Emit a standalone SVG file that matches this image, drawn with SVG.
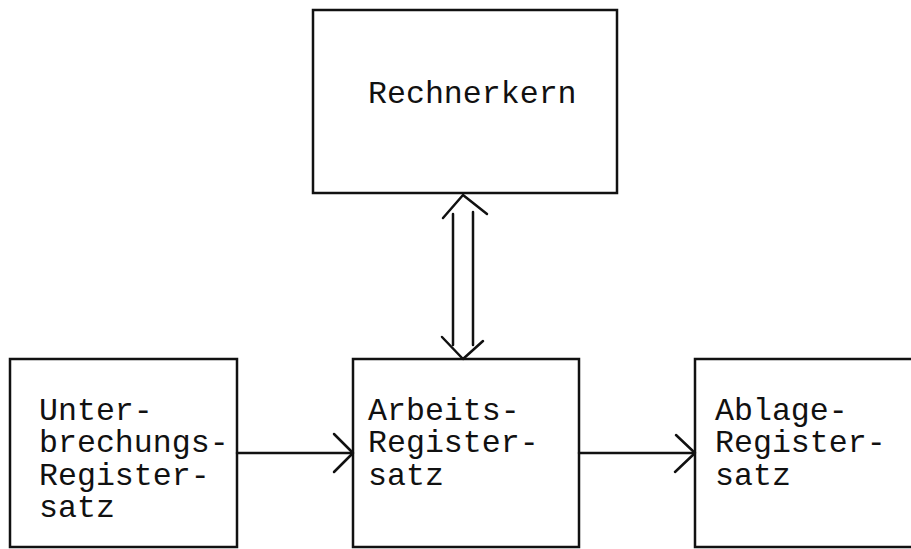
<svg xmlns="http://www.w3.org/2000/svg" width="911" height="549" viewBox="0 0 911 549">
  <style>
    .box { fill: #fff; stroke: #111; stroke-width: 2.5; }
    .lbl { font-family: "Liberation Mono", "Courier New", monospace; font-size: 31.6px; fill: #111; }
    .wire { fill: none; stroke: #111; stroke-width: 2.5; stroke-linecap: round; stroke-linejoin: round; }
  </style>
  <rect width="911" height="549" fill="#fff"/>

  <g id="rechnerkern">
    <rect class="box" x="313" y="10" width="304" height="183"/>
    <text class="lbl" x="368" y="103">Rechnerkern</text>
  </g>

  <g id="unterbrechungs-registersatz">
    <rect class="box" x="10" y="359" width="227" height="188"/>
    <text class="lbl" x="39" y="420">Unter-</text>
    <text class="lbl" x="39" y="452">brechungs-</text>
    <text class="lbl" x="39" y="485">Register-</text>
    <text class="lbl" x="39" y="517">satz</text>
  </g>

  <g id="arbeits-registersatz">
    <rect class="box" x="353" y="359" width="226" height="188"/>
    <text class="lbl" x="368" y="420">Arbeits-</text>
    <text class="lbl" x="368" y="452">Register-</text>
    <text class="lbl" x="368" y="485">satz</text>
  </g>

  <g id="ablage-registersatz">
    <rect class="box" x="695" y="359" width="230" height="188"/>
    <text class="lbl" x="715" y="420">Ablage-</text>
    <text class="lbl" x="715" y="452">Register-</text>
    <text class="lbl" x="715" y="485">satz</text>
  </g>

  <g id="connectors">
    <!-- double-line bus between Rechnerkern and Arbeits-Registersatz -->
    <line class="wire" x1="453" y1="214" x2="453" y2="345"/>
    <line class="wire" x1="473" y1="212" x2="473" y2="345"/>
    <polyline class="wire" points="443,218 463,195 487,214"/>
    <polyline class="wire" points="442,337 463,359 483,341"/>
    <!-- Unterbrechungs -> Arbeits -->
    <line class="wire" x1="237" y1="453" x2="352" y2="453"/>
    <polyline class="wire" points="334,434 353,453 334,472"/>
    <!-- Arbeits -> Ablage -->
    <line class="wire" x1="579" y1="453" x2="694" y2="453"/>
    <polyline class="wire" points="676,435 695,453 675,472"/>
  </g>
</svg>
